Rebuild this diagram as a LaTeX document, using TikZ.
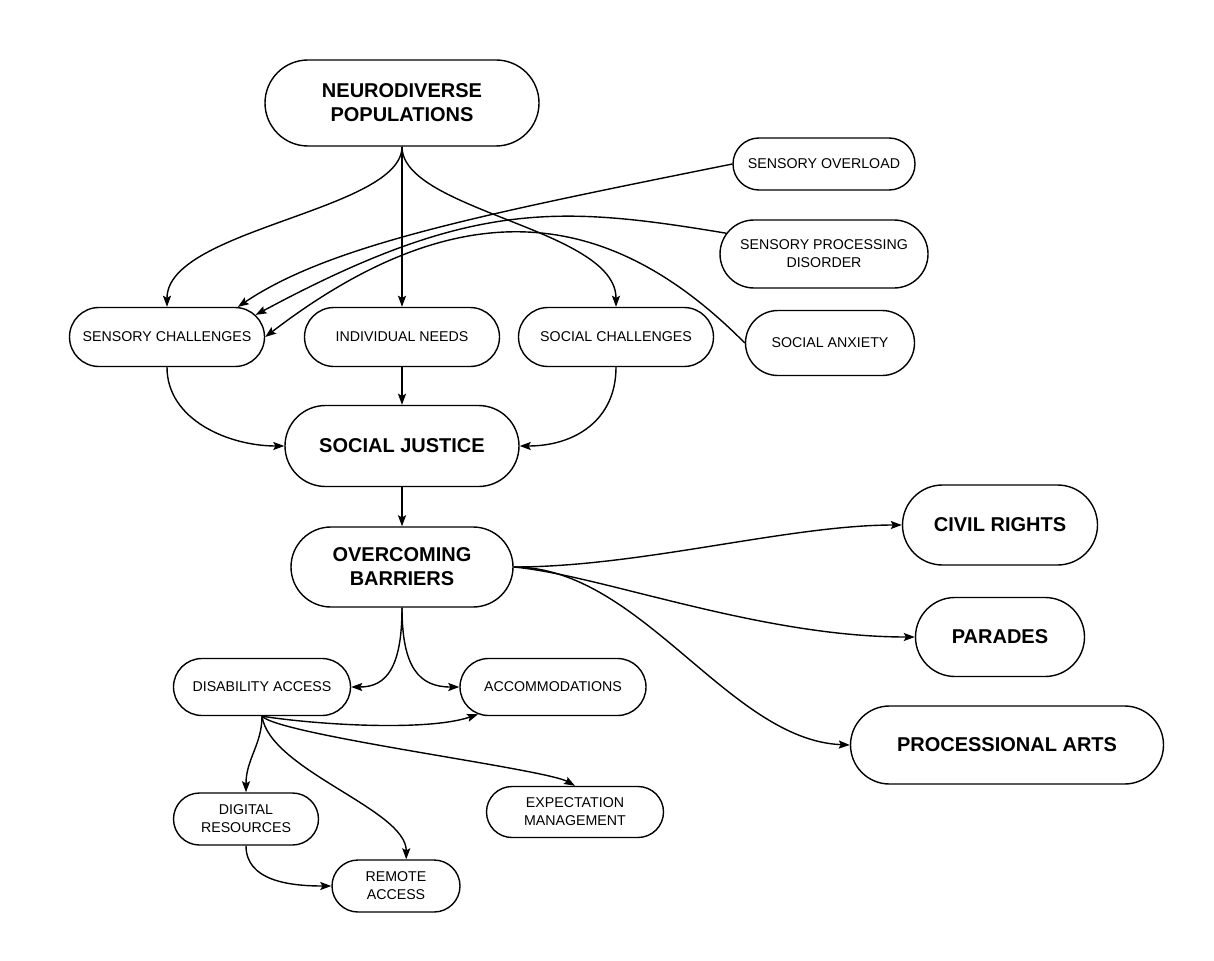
\documentclass[tikz,border=0pt]{standalone}
\usepackage{fontspec}
\setmainfont{Liberation Sans}
\usetikzlibrary{shapes.misc,arrows.meta}
\begin{document}
\begin{tikzpicture}[x=1pt,y=-1pt,
  box/.style={rounded rectangle, draw, line width=1.4pt, inner sep=0pt, align=center, font=\fontsize{14.2}{18}\selectfont},
  big/.style={box, font=\bfseries\fontsize{20}{24}\selectfont},
  arr/.style={line width=1.4pt, -{Stealth[length=11pt,width=8pt,inset=2pt]}}
]
\fill[white] (0,0) rectangle (1214,960);
\useasboundingbox (0,0) rectangle (1214,960);

\node[big, minimum width=274pt, minimum height=86pt] (np) at (402,103) {NEURODIVERSE\\POPULATIONS};
\node[box, minimum width=182pt, minimum height=52pt] (so) at (824,164) {SENSORY OVERLOAD};
\node[box, minimum width=208pt, minimum height=68pt] (spd) at (824,254) {SENSORY PROCESSING\\DISORDER};
\node[box, minimum width=195pt, minimum height=59pt] (sc) at (167,337) {SENSORY CHALLENGES};
\node[box, minimum width=195pt, minimum height=59pt] (in) at (402,337) {INDIVIDUAL NEEDS};
\node[box, minimum width=195pt, minimum height=59pt] (soc) at (616,337) {SOCIAL CHALLENGES};
\node[box, minimum width=169pt, minimum height=65pt] (sa) at (830,343) {SOCIAL ANXIETY};
\node[big, minimum width=234pt, minimum height=81pt] (sj) at (402,446) {SOCIAL JUSTICE};
\node[big, minimum width=222pt, minimum height=80pt] (ob) at (402,567) {OVERCOMING\\BARRIERS};
\node[big, minimum width=195pt, minimum height=80pt] (cr) at (1000,525) {CIVIL RIGHTS};
\node[big, minimum width=169pt, minimum height=79pt] (par) at (1000,637) {PARADES};
\node[big, minimum width=313pt, minimum height=78pt] (pa) at (1007,745) {PROCESSIONAL ARTS};
\node[box, minimum width=177pt, minimum height=57pt] (da) at (262,687) {DISABILITY ACCESS};
\node[box, minimum width=186pt, minimum height=57pt] (acc) at (553,687) {ACCOMMODATIONS};
\node[box, minimum width=145pt, minimum height=52pt] (dr) at (246,819) {DIGITAL\\RESOURCES};
\node[box, minimum width=177pt, minimum height=51pt] (em) at (575,812) {EXPECTATION\\MANAGEMENT};
\node[box, minimum width=128pt, minimum height=52pt] (ra) at (396,886) {REMOTE\\ACCESS};

\draw[arr] (np.south) .. controls +(0,64) and +(0,-78) .. (sc.north);
\draw[arr] (np.south) -- (in.north);
\draw[arr] (np.south) .. controls +(0,64) and +(0,-78) .. (soc.north);
\draw[arr] (so.west) .. controls +(-253,51) and +(92,-62) .. (sc.23);
\draw[arr] (spd.168) .. controls +(-168,-28) and +(214,-115) .. (sc.14);
\draw[arr] (sa.west) .. controls +(-127,-128) and +(205,-157) .. (sc.east);
\draw[arr] (sc.south) .. controls +(0,53) and +(-55,0) .. (sj.west);
\draw[arr] (in.south) -- (sj.north);
\draw[arr] (soc.south) .. controls +(0,53) and +(55,0) .. (sj.east);
\draw[arr] (sj.south) -- (ob.north);
\draw[arr] (ob.east) .. controls +(127,0) and +(-113,0) .. (cr.west);
\draw[arr] (ob.east) .. controls +(87,8) and +(-156,0) .. (par.west);
\draw[arr] (ob.east) .. controls +(127,0) and +(-121,-5) .. (pa.west);
\draw[arr] (ob.south) .. controls +(0,60) and +(35,0) .. (da.east);
\draw[arr] (ob.south) .. controls +(0,60) and +(-40,0) .. (acc.west);
\draw[arr] (da.south) .. controls +(58,9) and +(-50,17) .. (acc.200);
\draw[arr] (da.south) .. controls +(0,28) and +(0,-33) .. (dr.north);
\draw[arr] (da.south) .. controls +(8,54) and +(0,-50) .. (ra.69);
\draw[arr] (da.south) .. controls +(18,19) and +(-30,-17) .. (em.north);
\draw[arr] (dr.south) .. controls +(0,35) and +(-42,0) .. (ra.west);
\end{tikzpicture}
\end{document}
